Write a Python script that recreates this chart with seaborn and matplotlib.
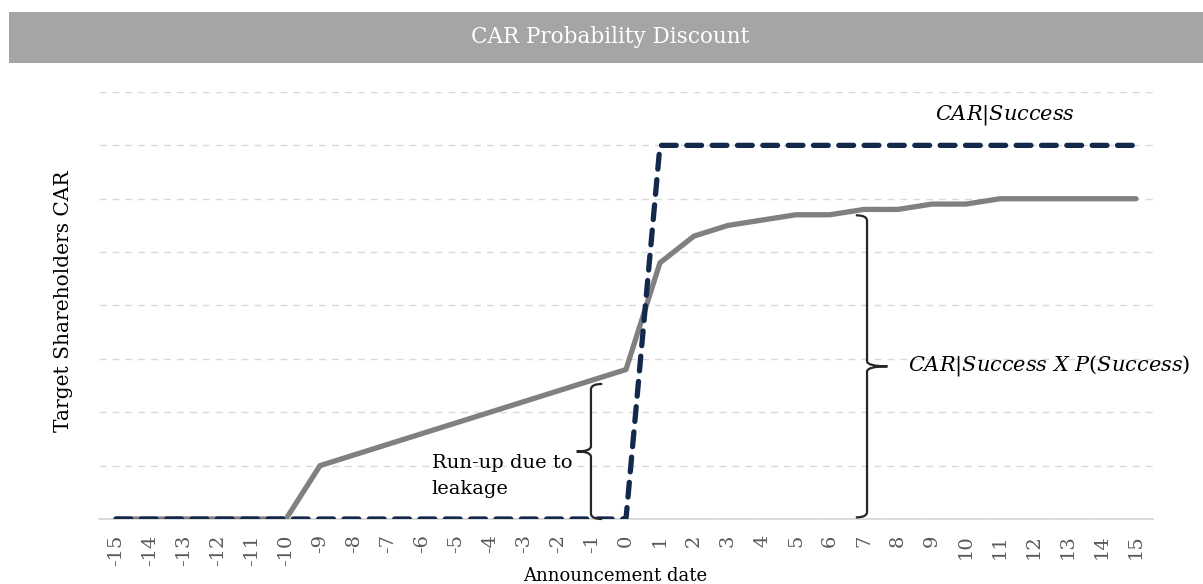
import numpy as np
import pandas as pd
import matplotlib
matplotlib.use("Agg")
import matplotlib.pyplot as plt
import seaborn as sns
from matplotlib.path import Path
from matplotlib.patches import PathPatch, Rectangle

# 数据
days = list(range(-15, 16))
car_success = [0] * 16 + [7] * 15
car_expected = [0, 0, 0, 0, 0, 0,
                1.0, 1.2, 1.4, 1.6, 1.8, 2.0, 2.2, 2.4, 2.6, 2.8,
                4.8, 5.3, 5.5, 5.6, 5.7, 5.7, 5.8, 5.8, 5.9, 5.9,
                6.0, 6.0, 6.0, 6.0, 6.0]
tick_labels = [str(d) for d in days]

df = pd.DataFrame({'day': days, 'success': car_success, 'expected': car_expected})

sns.set_theme(style="whitegrid")
plt.rcParams['font.family'] = ['DejaVu Serif']
plt.rcParams['mathtext.fontset'] = 'dejavuserif'
plt.rcParams['text.color'] = 'black'

fig = plt.figure(figsize=(12.03, 5.84), dpi=100)
ax = fig.add_axes([0.0823, 0.1113, 0.8761, 0.7312])

sns.lineplot(data=df, x='day', y='expected', ax=ax, color='#808080', lw=3.8, zorder=3)
sns.lineplot(data=df, x='day', y='success', ax=ax, color='#13294B', lw=3.8, zorder=4,
             dashes=False)
ax.lines[-1].set_dashes((2.8, 2.0))
ax.lines[-1].set_dash_capstyle('round')

ax.set_xlim(-15.5, 15.5)
ax.set_ylim(0, 8)
ax.set_xticks(days)
ax.set_xticklabels(tick_labels, rotation=90, fontsize=14, color='#595959')
ax.set_yticks(range(0, 9))
ax.set_yticklabels([])
ax.tick_params(axis='both', length=0)
ax.tick_params(axis='x', pad=11)
ax.grid(axis='x', visible=False)
ax.grid(axis='y', color='#D9D9D9', lw=1.0, ls=(0, (5, 4.3)))
for s in ['top', 'right', 'left']:
    ax.spines[s].set_visible(False)
ax.spines['bottom'].set_color('#D9D9D9')
ax.spines['bottom'].set_linewidth(1.3)

ax.set_xlabel('Announcement date', fontsize=13, color='black')
ax.xaxis.set_label_coords(0.49, -0.112)
ax.set_ylabel('Target Shareholders CAR', fontsize=14.5, color='black')
ax.yaxis.set_label_coords(-0.025, 0.51)


def brace(x, y0, y1, side, tip, curl=0.33, hy=0.1):
    ym = (y0 + y1) / 2
    verts = [(x - side * curl, y1), (x, y1), (x, y1 - hy), (x, ym + hy),
             (x, ym), (x + side * tip, ym),
             (x + side * tip, ym), (x, ym), (x, ym - hy), (x, y0 + hy),
             (x, y0), (x - side * curl, y0)]
    codes = [Path.MOVETO, Path.CURVE3, Path.CURVE3, Path.LINETO,
             Path.CURVE3, Path.CURVE3,
             Path.MOVETO, Path.CURVE3, Path.CURVE3, Path.LINETO,
             Path.CURVE3, Path.CURVE3]
    ax.add_patch(PathPatch(Path(verts, codes), fill=False, lw=1.6,
                           edgecolor='#262626', zorder=5, clip_on=False))


brace(-1.03, 0.0, 2.53, -1, 0.42)
brace(7.09, 0.03, 5.69, 1, 0.6)

ax.text(-5.71, 0.81, 'Run-up due to\nleakage', fontsize=14, ha='left', va='center',
        linespacing=1.6, zorder=6)
ax.text(8.29, 2.87, r'$CAR|Success\ X\ P(Success)$', fontsize=15, ha='left', va='center')
ax.text(11.15, 7.57, r'$CAR|Success$', fontsize=15, ha='center', va='center')

# 标题栏
fig.patches.append(Rectangle((0.0075, 0.892), 0.9925, 0.087, transform=fig.transFigure,
                             facecolor='#A5A5A5', edgecolor='none', zorder=0))
fig.text(0.507, 0.9366, 'CAR Probability Discount', color='white', fontsize=15.5,
         ha='center', va='center')

fig.savefig('out.png', dpi=100)
